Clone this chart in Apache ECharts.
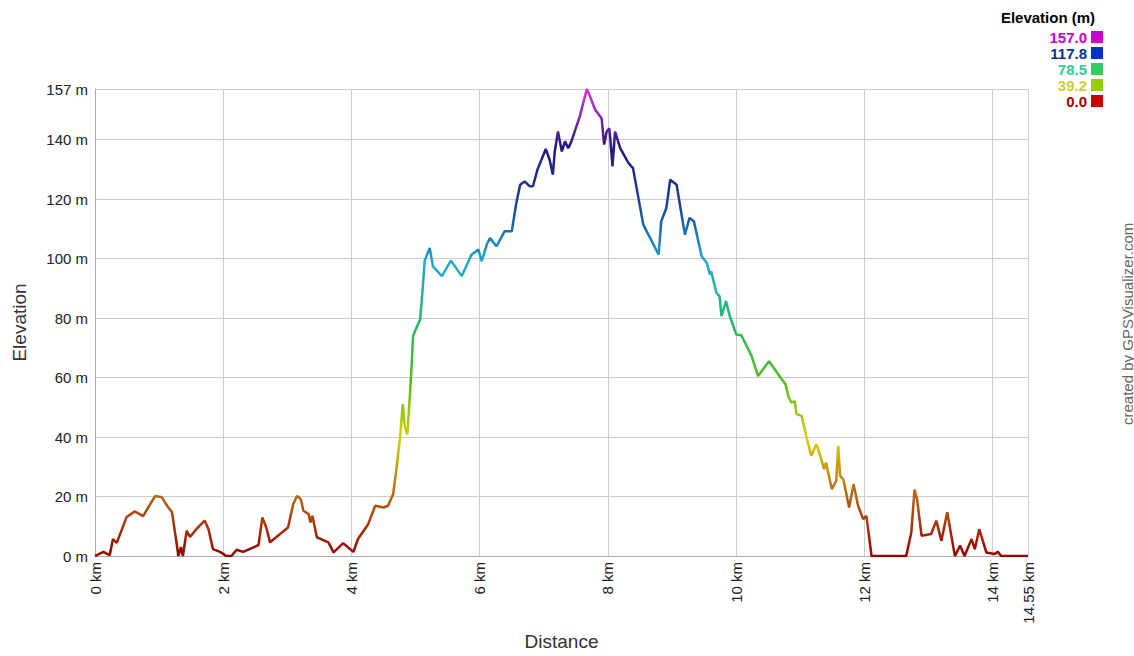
<!DOCTYPE html>
<html>
<head>
<meta charset="utf-8">
<script src="https://cdn.jsdelivr.net/npm/echarts@6/dist/echarts.min.js"></script>
<style>html,body{margin:0;padding:0;background:#fff;}#c{width:1134px;height:656px;}</style>
</head>
<body>
<div id="c"></div>
<script>
const distanceKm = [0,0.13,0.23,0.28,0.34,0.49,0.62,0.75,0.86,0.94,1.04,1.14,1.2,1.27,1.3,1.34,1.37,1.43,1.48,1.58,1.71,1.77,1.84,1.95,2.05,2.13,2.21,2.31,2.47,2.55,2.61,2.67,2.73,3.01,3.09,3.15,3.21,3.25,3.33,3.36,3.39,3.46,3.64,3.72,3.87,4.03,4.1,4.26,4.37,4.5,4.57,4.65,4.70,4.76,4.80,4.83,4.87,4.91,4.94,4.96,4.99,5.07,5.11,5.14,5.22,5.27,5.41,5.55,5.72,5.87,5.98,6.03,6.11,6.16,6.26,6.39,6.50,6.57,6.63,6.70,6.78,6.83,6.90,7.03,7.09,7.14,7.17,7.22,7.28,7.33,7.38,7.43,7.56,7.67,7.72,7.80,7.90,7.94,7.98,8.02,8.04,8.07,8.11,8.19,8.32,8.39,8.55,8.79,8.83,8.91,8.97,9.07,9.20,9.27,9.34,9.46,9.54,9.59,9.61,9.69,9.74,9.77,9.84,9.90,10.0,10.08,10.24,10.34,10.51,10.71,10.77,10.81,10.86,10.91,10.94,11.02,11.09,11.17,11.25,11.31,11.37,11.40,11.49,11.56,11.59,11.62,11.67,11.76,11.83,11.90,11.98,12.03,12.11,12.65,12.73,12.78,12.82,12.89,13.04,13.12,13.20,13.29,13.41,13.49,13.56,13.67,13.72,13.79,13.90,14.03,14.08,14.13,14.55];
const elevationM = [0,1.4,0.3,5.7,4.4,13,15,13.4,17.4,20.2,19.8,16.4,14.8,4.7,0,3,0,8.5,6.4,9,11.9,9,2.3,1.4,0,0.1,2.1,1.4,2.9,3.7,13,9.6,4.6,9.6,17.4,20.2,19.1,15.2,14.1,11.3,13.5,6.3,4.6,1.2,4.3,1.4,5.7,10.7,16.9,16.3,16.9,20.8,29.2,40.4,51,43.7,40.9,53.8,65,73.9,75.6,79.5,89.6,99.1,103.6,97.4,94.1,99.3,94.1,101.3,103,99.1,104.7,106.9,104.1,109.2,109.2,118.7,124.8,125.9,124.3,124.3,129.9,136.8,133.2,128.2,136,142.7,136,139.4,137.1,139.4,147.8,157,154.5,150,147.2,138.3,142.7,143.8,139.4,131,142.7,137.1,132.1,130.4,111.4,101.3,112.5,117,126.5,124.8,108,113.6,112.5,100.8,98.6,94.6,95.7,88.5,87.3,80.6,85.7,80.6,74.5,74.2,67.2,60.5,65.5,59.4,57.7,53.8,51.6,52.1,47.7,47.1,40.4,33.7,37.6,33.7,29.2,31.4,22.5,25.3,37,26.9,25.8,16.3,24.2,16.9,12.4,13.5,0,0,7.9,22.3,19.1,6.8,7.4,11.9,5.1,14.7,0,3.5,0,5.7,2.3,9,1.2,0.7,1.4,0,0];
const legendValues = ['157.0','117.8','78.5','39.2','0.0'];
const legendTextColors = ['#cc00cc','#003399','#33cc99','#cccc33','#aa0000'];
const legendBoxColors = ['#cc00cc','#0033cc','#33cc66','#99cc00','#cc0000'];

const FONT = "'Liberation Sans', Arial, sans-serif";
const chart = echarts.init(document.getElementById('c'), null, {renderer: 'svg'});
const pts = distanceKm.map((d, i) => [d, elevationM[i]]);

const graphics = [
  {type: 'text', x: 1048, y: 17,
   style: {text: 'Elevation (m)', font: "bold 15px " + FONT, fill: '#000', textAlign: 'center', textVerticalAlign: 'middle'}},
  {type: 'text', x: 1127, y: 425, rotation: Math.PI / 2,
   style: {text: 'created by GPSVisualizer.com', font: "15px " + FONT, fill: '#666', textAlign: 'left', textVerticalAlign: 'middle'}}
];
legendValues.forEach((v, i) => {
  graphics.push({type: 'text', x: 1087, y: 37 + i * 16,
    style: {text: v, font: "bold 15px " + FONT, fill: legendTextColors[i], textAlign: 'right', textVerticalAlign: 'middle'}});
  graphics.push({type: 'rect', shape: {x: 1091, y: 31 + i * 16, width: 12, height: 12},
    style: {fill: legendBoxColors[i]}});
});

chart.setOption({
  backgroundColor: '#fff',
  animation: false,
  grid: {left: 95, right: 106, top: 89, bottom: 99, containLabel: false},
  xAxis: {
    type: 'value', min: 0, max: 14.55, interval: 2,
    name: 'Distance', nameLocation: 'middle', nameGap: 76,
    nameTextStyle: {fontFamily: FONT, fontSize: 19, color: '#333'},
    axisLine: {show: true, lineStyle: {color: '#aaa'}},
    axisTick: {show: false},
    splitLine: {show: true, lineStyle: {color: '#ccc'}},
    axisLabel: {rotate: 90, margin: 6, fontFamily: FONT, fontSize: 15, color: '#222',
      showMaxLabel: true, formatter: v => v + ' km'}
  },
  yAxis: {
    type: 'value', min: 0, max: 157, interval: 20,
    name: 'Elevation', nameLocation: 'middle', nameGap: 66, nameRotate: 90,
    nameTextStyle: {fontFamily: FONT, fontSize: 19, color: '#333'},
    axisLine: {show: true, lineStyle: {color: '#aaa'}},
    axisTick: {show: false},
    splitLine: {show: true, lineStyle: {color: '#ccc'}},
    axisLabel: {margin: 7, fontFamily: FONT, fontSize: 15, color: '#222',
      showMaxLabel: true, formatter: v => v + ' m'}
  },
  visualMap: {
    show: false, type: 'continuous', dimension: 1, min: 0, max: 157, seriesIndex: 0,
    inRange: {color: ['#990000','#b86010','#d8d000','#55bb22','#22bb66','#22aacc','#1a4499','#241680','#dd33dd']}
  },
  series: [{
    type: 'line', data: pts, showSymbol: false, smooth: false,
    lineStyle: {width: 2.5}
  }],
  graphic: graphics
});
</script>
</body>
</html>
